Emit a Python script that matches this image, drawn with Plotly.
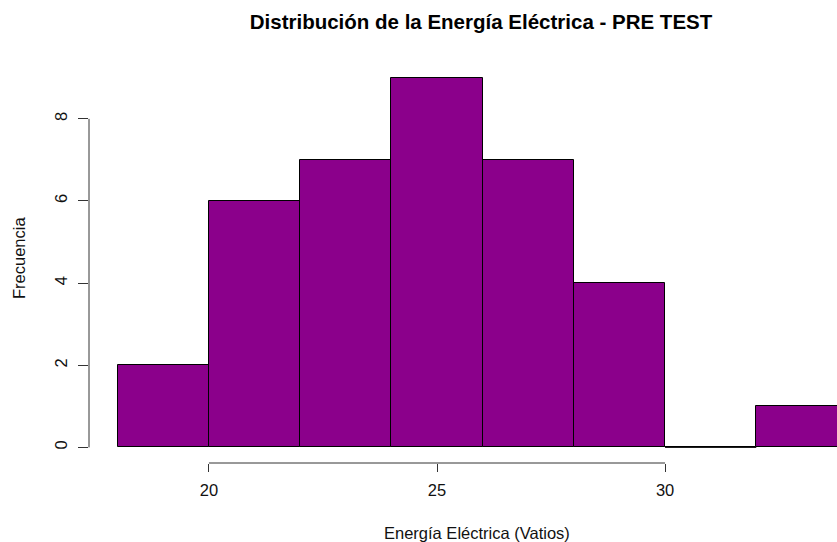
import plotly.graph_objects as go

# Histogram bins (Vatios) and their counts
bin_left = [18, 20, 22, 24, 26, 28, 30, 32]
bin_right = [20, 22, 24, 26, 28, 30, 32, 34]
counts = [2, 6, 7, 9, 7, 4, 0, 1]

x_ticks = [20, 25, 30]
y_ticks = [0, 2, 4, 6, 8]

BAR_COLOR = "#8B008B"
FONT = "Liberation Sans, Arial, sans-serif"

centers = [(a + b) / 2 for a, b in zip(bin_left, bin_right)]
widths = [b - a for a, b in zip(bin_left, bin_right)]

fig = go.Figure()
fig.add_trace(go.Bar(
    x=centers, y=counts, width=widths,
    marker=dict(color=BAR_COLOR, line=dict(color="black", width=1)),
    hoverinfo="skip", showlegend=False,
))

# empty bins still show their baseline edge
for a, b, c in zip(bin_left, bin_right, counts):
    if c == 0:
        fig.add_trace(go.Scatter(
            x=[a, b], y=[0, 0], mode="lines",
            line=dict(color="black", width=1),
            hoverinfo="skip", showlegend=False,
        ))

W, H = 837, 542
ML, MR, MT, MB = 89, 0, 63, 79

fig.update_layout(
    width=W, height=H,
    margin=dict(l=ML, r=MR, t=MT, b=MB),
    paper_bgcolor="white", plot_bgcolor="white",
    bargap=0,
    font=dict(family=FONT, color="black"),
    title=dict(
        text="<b>Distribución de la Energía Eléctrica - PRE TEST</b>",
        x=481 / W, xref="container", xanchor="center",
        y=1 - 22 / H, yref="container", yanchor="middle",
        font=dict(size=20.5, family=FONT, color="black"),
    ),
    xaxis=dict(
        range=[17.37, 33.77], tickvals=x_ticks, ticktext=[str(v) for v in x_ticks],
        showgrid=False, zeroline=False, showline=False,
        ticks="outside", ticklen=8, tickwidth=1, tickcolor="#333",
        tickfont=dict(size=16.5, family=FONT, color="#111"),
        ticklabelstandoff=4,
    ),
    yaxis=dict(
        range=[-0.38, 9.36], tickvals=y_ticks, ticktext=[str(v) for v in y_ticks],
        showgrid=False, zeroline=False, showline=False,
        ticks="outside", ticklen=10, tickwidth=1, tickcolor="#333",
        tickangle=-90,
        tickfont=dict(size=16.5, family=FONT, color="#111"),
        ticklabelstandoff=4,
    ),
    shapes=[
        dict(type="line", xref="x", yref="paper", x0=x_ticks[0], x1=x_ticks[-1], y0=0, y1=0,
             line=dict(color="#333", width=1)),
        dict(type="line", xref="paper", yref="y", x0=0, x1=0, y0=y_ticks[0], y1=y_ticks[-1],
             line=dict(color="#333", width=1)),
    ],
    annotations=[
        dict(text="Energía Eléctrica (Vatios)", xref="paper", yref="paper",
             x=(477 - ML) / (W - ML - MR), y=0, yshift=-70,
             xanchor="center", yanchor="middle", showarrow=False,
             font=dict(size=16.5, family=FONT, color="#111")),
        dict(text="Frecuencia", xref="paper", yref="paper",
             x=0, xshift=-(ML - 19), y=(463 - 258) / (463 - 63),
             xanchor="center", yanchor="middle", textangle=-90, showarrow=False,
             font=dict(size=16.5, family=FONT, color="#111")),
    ],
)

fig.write_html("out.html")
